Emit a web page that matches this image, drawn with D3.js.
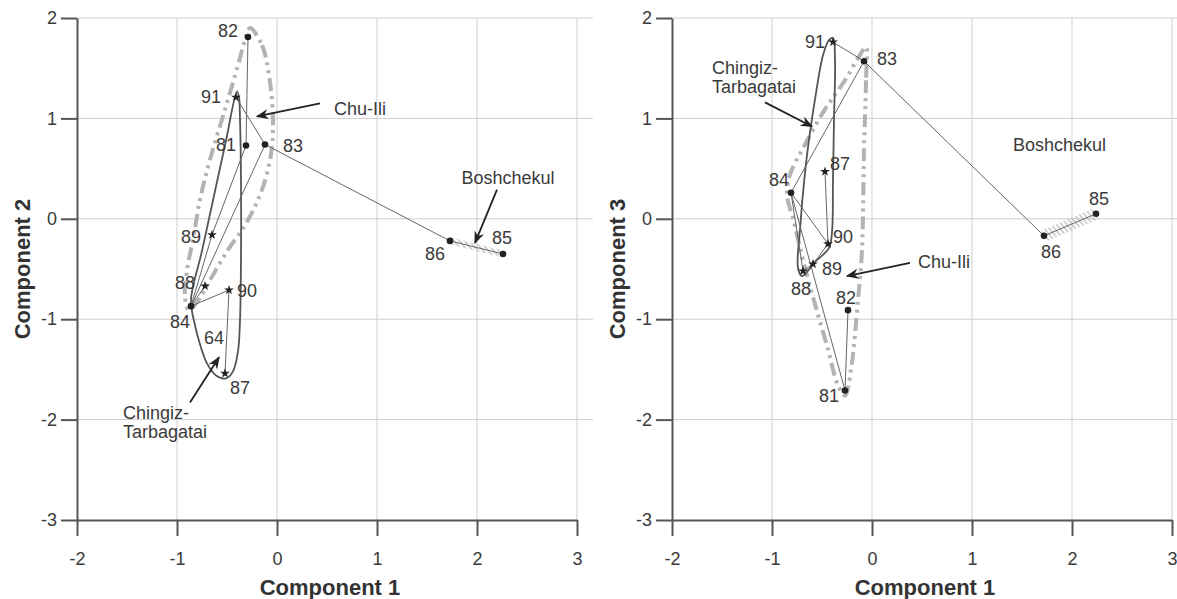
<!DOCTYPE html>
<meta charset="utf-8">
<script src="https://d3js.org/d3.v7.min.js"></script>
<style>
  body { margin: 0; background: #fff; }
  text { font-family: "Liberation Sans", Arial, sans-serif; }
</style>
<div id="chart"></div>
<script>
  // Sample numbers and type (dot = intrusive, star = other)
  const samples = ["81", "82", "83", "84", "85", "86", "87", "88", "89", "90", "91"];
  const sampleType = ["dot", "dot", "dot", "dot", "dot", "dot", "star", "star", "star", "star", "star"];

  // Left plot: Component 1 vs Component 2
  const comp1Left = [-0.31, -0.29, -0.12, -0.86, 2.26, 1.73, -0.52, -0.72, -0.65, -0.48, -0.41];
  const comp2 = [0.73, 1.81, 0.74, -0.87, -0.35, -0.22, -1.54, -0.67, -0.16, -0.71, 1.21];

  // Right plot: Component 1 vs Component 3
  const comp1Right = [-0.27, -0.24, -0.08, -0.81, 2.24, 1.72, -0.47, -0.69, -0.59, -0.44, -0.39];
  const comp3 = [-1.71, -0.91, 1.57, 0.26, 0.05, -0.17, 0.47, -0.52, -0.45, -0.25, 1.76];

  // connecting lines between samples
  const linksLeft = [["82", "81"], ["81", "89"], ["89", "84"], ["83", "84"], ["91", "83"],
    ["84", "88"], ["84", "90"], ["90", "87"], ["83", "86"], ["86", "85"]];
  const linksRight = [["91", "83"], ["83", "84"], ["83", "86"], ["86", "85"], ["84", "90"],
    ["87", "90"], ["84", "88"], ["84", "81"], ["81", "82"], ["88", "89"], ["89", "90"]];

  // group outlines (component units)
  const chuIliLeft = [[-0.27, 1.90], [-0.15, 1.73], [-0.08, 1.43], [-0.04, 0.99], [-0.06, 0.64],
    [-0.15, 0.29], [-0.30, -0.03], [-0.49, -0.31], [-0.67, -0.61], [-0.80, -0.83], [-0.88, -0.91],
    [-0.92, -0.79], [-0.90, -0.51], [-0.84, -0.21], [-0.77, 0.19], [-0.67, 0.59], [-0.52, 1.09],
    [-0.39, 1.53], [-0.32, 1.78]];
  const chingizLeft = [[-0.40, 1.27], [-0.51, 0.78], [-0.63, 0.23], [-0.75, -0.32], [-0.86, -0.81],
    [-0.82, -1.06], [-0.77, -1.25], [-0.70, -1.44], [-0.61, -1.56], [-0.51, -1.59], [-0.44, -1.52],
    [-0.39, -1.32], [-0.37, -1.01], [-0.36, -0.41], [-0.36, 0.39], [-0.37, 0.99], [-0.38, 1.21]];
  const chuIliRight = [[-0.06, 1.71], [-0.06, 1.38], [-0.08, 0.69], [-0.10, -0.31], [-0.14, -0.81],
    [-0.21, -1.50], [-0.27, -1.76], [-0.34, -1.66], [-0.44, -1.30], [-0.57, -0.85], [-0.69, -0.41],
    [-0.78, -0.03], [-0.85, 0.24], [-0.82, 0.44], [-0.67, 0.74], [-0.47, 1.09], [-0.27, 1.38],
    [-0.14, 1.60]];
  const chingizRight = [[-0.39, 1.80], [-0.37, 1.58], [-0.38, 0.99], [-0.39, 0.39], [-0.40, -0.13],
    [-0.43, -0.29], [-0.57, -0.43], [-0.70, -0.57], [-0.74, -0.49], [-0.72, -0.11], [-0.67, 0.46],
    [-0.62, 0.86], [-0.57, 1.19], [-0.49, 1.63], [-0.43, 1.78]];

  const xTicks = [-2, -1, 0, 1, 2, 3];
  const yTicks = [-3, -2, -1, 0, 1, 2];

  const width = 1177, height = 599;
  const ink = "#3a3a3a";

  const svg = d3.select("#chart").append("svg")
    .attr("width", width)
    .attr("height", height);

  const defs = svg.append("defs");
  defs.append("marker")
      .attr("id", "arrow")
      .attr("viewBox", "0 0 10 10")
      .attr("refX", 9).attr("refY", 5)
      .attr("markerWidth", 7).attr("markerHeight", 7)
      .attr("markerUnits", "strokeWidth")
      .attr("orient", "auto")
    .append("path")
      .attr("d", "M0,1 L10,5 L0,9 L3,5 Z")
      .attr("fill", "#222");
  defs.append("pattern")
      .attr("id", "hatch")
      .attr("patternUnits", "userSpaceOnUse")
      .attr("width", 4).attr("height", 4)
      .attr("patternTransform", "rotate(-40)")
    .append("line")
      .attr("x1", 1).attr("y1", 0).attr("x2", 1).attr("y2", 4)
      .attr("stroke", "#b5b5b5")
      .attr("stroke-width", 1.2);

  const y = d3.scaleLinear().domain([-3, 2]).range([520, 18]);

  const outline = (xs) => d3.line()
    .x(d => xs(d[0]))
    .y(d => y(d[1]))
    .curve(d3.curveCatmullRomClosed.alpha(0.5));

  function drawPanel(p) {
    const x = p.x;
    const g = svg.append("g");
    const pos = {};
    samples.forEach((s, i) => { pos[s] = [x(p.xs[i]), y(p.ys[i])]; });

    // grid
    g.selectAll(".vgrid").data(xTicks.slice(1)).enter().append("line")
      .attr("x1", d => x(d)).attr("x2", d => x(d))
      .attr("y1", y(2)).attr("y2", y(-3))
      .attr("stroke", "#cfcfcf").attr("stroke-width", 1);
    g.selectAll(".hgrid").data(yTicks.slice(1)).enter().append("line")
      .attr("x1", x(-2)).attr("x2", x(3) + 16)
      .attr("y1", d => y(d)).attr("y2", d => y(d))
      .attr("stroke", "#cfcfcf").attr("stroke-width", 1);

    // Chu-Ili outline
    g.append("path")
      .attr("d", outline(x)(p.chuIli))
      .attr("fill", "none")
      .attr("stroke", "#b3b3b3")
      .attr("stroke-width", 4)
      .attr("stroke-dasharray", "13 5 3 5 3 5");

    // Chingiz-Tarbagatai outline
    g.append("path")
      .attr("d", outline(x)(p.chingiz))
      .attr("fill", "none")
      .attr("stroke", "#555")
      .attr("stroke-width", 1.8);

    // hatched Boshchekul band
    g.append("line")
      .attr("x1", pos["86"][0]).attr("y1", pos["86"][1])
      .attr("x2", pos["85"][0]).attr("y2", pos["85"][1])
      .attr("stroke", "url(#hatch)")
      .attr("stroke-width", p.hatchWidth);

    // links
    g.selectAll(".link").data(p.links).enter().append("line")
      .attr("x1", d => pos[d[0]][0]).attr("y1", d => pos[d[0]][1])
      .attr("x2", d => pos[d[1]][0]).attr("y2", d => pos[d[1]][1])
      .attr("stroke", "#666")
      .attr("stroke-width", 1);

    // markers
    g.selectAll(".pt").data(samples).enter().append("path")
      .attr("transform", d => `translate(${pos[d][0]},${pos[d][1]})`)
      .attr("d", (d, i) => sampleType[i] === "dot"
        ? d3.symbol(d3.symbolCircle, 34)()
        : d3.symbol(d3.symbolStar, 30)())
      .attr("fill", "#222");

    // sample labels
    g.selectAll(".lab").data(samples).enter().append("text")
      .attr("x", d => pos[d][0] + p.offsets[d][0])
      .attr("y", d => pos[d][1] + p.offsets[d][1])
      .attr("text-anchor", "middle")
      .attr("dominant-baseline", "central")
      .attr("font-size", 18)
      .attr("fill", ink)
      .text(d => d);

    // group annotations
    p.notes.forEach(n => {
      const t = g.append("text")
        .attr("x", x(n.at[0]))
        .attr("y", y(n.at[1]))
        .attr("text-anchor", n.anchor || "start")
        .attr("dominant-baseline", "central")
        .attr("font-size", 18)
        .attr("fill", ink);
      n.text.forEach((line, k) => {
        t.append("tspan")
          .attr("x", x(n.at[0]))
          .attr("dy", k === 0 ? 0 : 19)
          .text(line);
      });
      if (n.from) {
        g.append("line")
          .attr("x1", x(n.from[0])).attr("y1", y(n.from[1]))
          .attr("x2", x(n.to[0])).attr("y2", y(n.to[1]))
          .attr("stroke", "#222")
          .attr("stroke-width", 1.8)
          .attr("marker-end", "url(#arrow)");
      }
    });

    // axes
    const fmt = d => String(d);
    const ax = g.append("g")
      .attr("transform", `translate(0,${y(-3)})`)
      .call(d3.axisBottom(x).tickValues(xTicks).tickFormat(fmt)
        .tickSize(16).tickSizeOuter(0).tickPadding(16));
    const ay = g.append("g")
      .attr("transform", `translate(${x(-2)},0)`)
      .call(d3.axisLeft(y).tickValues(yTicks).tickFormat(fmt)
        .tickSize(16).tickSizeOuter(0).tickPadding(4));
    [ax, ay].forEach(a => {
      a.select(".domain").attr("stroke", "#555").attr("stroke-width", 2);
      a.selectAll(".tick line").attr("stroke", "#555").attr("stroke-width", 2);
      a.selectAll(".tick text")
        .attr("font-size", 18)
        .attr("fill", ink)
        .attr("font-family", "Liberation Sans, Arial, sans-serif");
    });
    // keep the last x tick label inside the page
    if (x(3) + 6 > width) {
      ax.selectAll(".tick text").filter(d => d === 3)
        .attr("text-anchor", "end")
        .attr("x", width - x(3));
    }

    // axis titles
    g.append("text")
      .attr("x", (x(-2) + x(3)) / 2 + 3)
      .attr("y", 587)
      .attr("text-anchor", "middle")
      .attr("dominant-baseline", "central")
      .attr("font-size", 22)
      .attr("font-weight", "bold")
      .attr("fill", "#333")
      .text("Component 1");
    g.append("text")
      .attr("transform", `translate(${x(-2) - 55},${(y(2) + y(-3)) / 2}) rotate(-90)`)
      .attr("text-anchor", "middle")
      .attr("dominant-baseline", "central")
      .attr("font-size", 22)
      .attr("font-weight", "bold")
      .attr("fill", "#333")
      .text(p.yTitle);
  }

  drawPanel({
    x: d3.scaleLinear().domain([-2, 3]).range([77, 577]),
    xs: comp1Left, ys: comp2,
    links: linksLeft,
    chuIli: chuIliLeft, chingiz: chingizLeft,
    hatchWidth: 7,
    yTitle: "Component 2",
    offsets: {
      "82": [-20, -6], "91": [-25, 0], "81": [-20, -1], "83": [28, 1], "89": [-21, 2],
      "88": [-20, -3], "90": [18, 1], "84": [-11, 16], "87": [15, 15], "86": [-15, 13], "85": [-1, -16]
    },
    notes: [
      { text: ["Chu-Ili"], at: [0.57, 1.09], from: [0.43, 1.15], to: [-0.20, 1.02] },
      { text: ["Boshchekul"], at: [2.31, 0.41], anchor: "middle", from: [2.20, 0.29], to: [1.98, -0.24] },
      { text: ["Chingiz-", "Tarbagatai"], at: [-1.54, -1.93], from: [-0.87, -1.83], to: [-0.58, -1.38] },
      { text: ["64"], at: [-0.63, -1.19], anchor: "middle" }
    ]
  });

  drawPanel({
    x: d3.scaleLinear().domain([-2, 3]).range([672, 1172]),
    xs: comp1Right, ys: comp3,
    links: linksRight,
    chuIli: chuIliRight, chingiz: chingizRight,
    hatchWidth: 12,
    yTitle: "Component 3",
    offsets: {
      "91": [-18, 0], "83": [23, -2], "87": [15, -8], "84": [-12, -13], "90": [15, -7],
      "89": [19, 5], "88": [-2, 18], "82": [-2, -12], "81": [-16, 6], "86": [7, 16], "85": [3, -15]
    },
    notes: [
      { text: ["Chingiz-", "Tarbagatai"], at: [-1.60, 1.50], from: [-1.07, 1.16], to: [-0.60, 0.92] },
      { text: ["Chu-Ili"], at: [0.46, -0.43], from: [0.38, -0.44], to: [-0.25, -0.57] },
      { text: ["Boshchekul"], at: [1.41, 0.74] }
    ]
  });
</script>
